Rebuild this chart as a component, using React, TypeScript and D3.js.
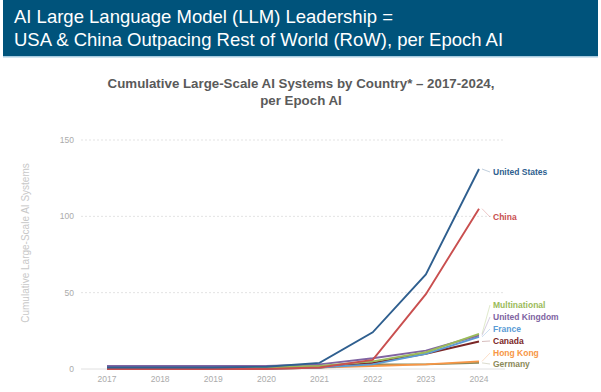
import React from "react";
import * as d3 from "d3";

const years = [2017, 2018, 2019, 2020, 2021, 2022, 2023, 2024];
const yTicks = [0, 50, 100, 150];

const countries = ["United States", "China", "Multinational", "United Kingdom", "France", "Canada", "Hong Kong", "Germany"];
const unitedStates = [1, 1, 1, 1.5, 4, 24, 62, 131];
const china = [0, 0, 0, 0, 1, 6, 49, 105];
const multinational = [0, 0, 0, 1, 2, 5, 11, 23];
const unitedKingdom = [2, 2, 2, 2, 3, 7, 12, 22];
const france = [0, 0, 0, 0, 1, 3, 10, 21];
const canada = [0.5, 0.5, 0.5, 1, 1, 4, 10, 18];
const hongKong = [0, 0, 0, 0, 1, 2, 3, 5];
const germany = [0, 0, 0, 1, 2, 3, 3, 4];

const seriesValues = [unitedStates, china, multinational, unitedKingdom, france, canada, hongKong, germany];
const colors = ["#2F5F8F", "#C94F4F", "#9BBB59", "#8064A2", "#5B9BD5", "#7A2626", "#F79646", "#8C8A5A"];
const labelY = [172, 217, 305, 317, 329, 341, 353, 364];

export default function App() {
  const x = d3.scalePoint<number>().domain(years).range([107, 479]);
  const y = d3.scaleLinear().domain([0, 150]).range([369, 140]);
  const line = d3
    .line<number>()
    .x((_, i) => x(years[i]) as number)
    .y((d) => y(d));

  const drawOrder = [7, 6, 5, 4, 3, 2, 1, 0];

  return (
    <svg width={601} height={392} style={{ position: "absolute", left: 0, top: 0, fontFamily: "Arial, 'Liberation Sans', sans-serif" }}>
      <rect x={0} y={0} width={601} height={392} fill="#ffffff" />
      <rect x={3} y={0} width={595} height={56} fill="#00537B" />
      <rect x={3} y={56} width={595} height={1.5} fill="#A9CCE0" />
      <text x={14} y={23} fill="#ffffff" fontSize={18.5}>AI Large Language Model (LLM) Leadership =</text>
      <text x={14} y={46} fill="#ffffff" fontSize={18.5}>USA &amp; China Outpacing Rest of World (RoW), per Epoch AI</text>

      <text x={301} y={88} textAnchor="middle" fill="#5A5A5A" fontSize={13.3} fontWeight="bold">
        Cumulative Large-Scale AI Systems by Country* – 2017-2024,
      </text>
      <text x={301} y={105} textAnchor="middle" fill="#5A5A5A" fontSize={13.3} fontWeight="bold">per Epoch AI</text>

      <text transform={`translate(29,${243}) rotate(-90)`} textAnchor="middle" fill="#C8C8C8" fontSize={10}>
        Cumulative Large-Scale AI Systems
      </text>

      {yTicks.map((t) => (
        <g key={t}>
          <line
            x1={81}
            x2={505}
            y1={y(t)}
            y2={y(t)}
            stroke={t === 0 ? "#E0E0E0" : "#E3E3E3"}
            strokeWidth={1}
            strokeDasharray={t === 0 ? undefined : "2,2"}
          />
          <text x={74} y={y(t) + 3} textAnchor="end" fill="#ABABAB" fontSize={8.5}>{t}</text>
        </g>
      ))}
      {years.map((yr) => (
        <text key={yr} x={x(yr)} y={382} textAnchor="middle" fill="#ABABAB" fontSize={8.5}>{yr}</text>
      ))}

      {drawOrder.map((i) => (
        <path key={countries[i]} d={line(seriesValues[i]) || ""} fill="none" stroke={colors[i]} strokeWidth={1.9} />
      ))}

      {countries.map((c, i) => {
        const endY = y(seriesValues[i][7]);
        return (
          <g key={c}>
            <line x1={482} y1={endY} x2={490} y2={labelY[i]} stroke={colors[i]} strokeWidth={0.6} opacity={0.5} />
            <text x={493} y={labelY[i] + 3} fill={colors[i]} fontSize={8.5} fontWeight="bold">{c}</text>
          </g>
        );
      })}
    </svg>
  );
}
